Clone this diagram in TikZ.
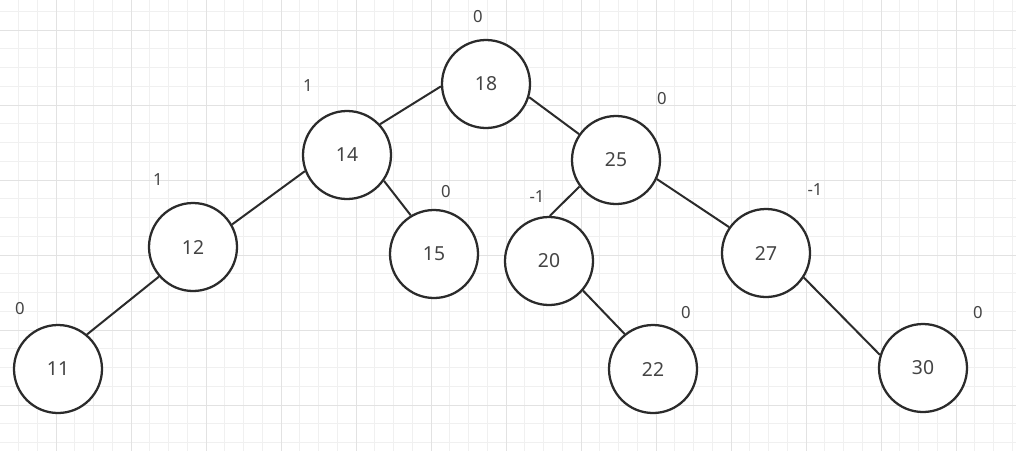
\documentclass[tikz,border=0pt]{standalone}
\usepackage{fontspec}
\setmainfont{Noto Sans}
\definecolor{gridminor}{HTML}{F0F0F0}
\definecolor{gridmajor}{HTML}{E2E2E2}
\definecolor{inkc}{HTML}{2B2B2B}
\definecolor{textc}{HTML}{444444}
\begin{document}
\begin{tikzpicture}[x=0.75pt,y=-0.75pt,
  treenode/.style={circle,draw=inkc,line width=1.7pt,fill=white,minimum size=66pt,inner sep=0pt,font=\fontsize{14.5pt}{17pt}\selectfont,text=textc},
  bal/.style={font=\fontsize{12.5pt}{15pt}\selectfont,text=textc,inner sep=0pt},
  edge/.style={draw=inkc,line width=1.5pt}]
\fill[white] (0,0) rectangle (1016,451);
\useasboundingbox (0,0) rectangle (1016,451);
\begin{scope}
\clip (0,0) rectangle (1016,451);
\foreach \i in {-3,...,52} \draw[gridminor,line width=0.75pt] ({56+18.75*\i},0) -- ({56+18.75*\i},451);
\foreach \i in {-2,...,23} \draw[gridminor,line width=0.75pt] (0,{30+18.75*\i}) -- (1016,{30+18.75*\i});
\foreach \i in {-1,...,13} \draw[gridmajor,line width=0.75pt] ({56+75*\i},0) -- ({56+75*\i},451);
\foreach \i in {-1,...,6} \draw[gridmajor,line width=0.75pt] (0,{30+75*\i}) -- (1016,{30+75*\i});
\end{scope}
\node[treenode] (n18) at (486,84) {18};
\node[treenode] (n14) at (347,155) {14};
\node[treenode] (n25) at (616,160) {25};
\node[treenode] (n12) at (193,247) {12};
\node[treenode] (n15) at (434,254) {15};
\node[treenode] (n20) at (549,261) {20};
\node[treenode] (n27) at (766,253) {27};
\node[treenode] (n11) at (58,369) {11};
\node[treenode] (n22) at (653,369) {22};
\node[treenode] (n30) at (923,368) {30};
\draw[edge] (n18.183) -- (n14.43);
\draw[edge] (n18.-17) -- (n25.145);
\draw[edge] (n14.201) -- (n12.30);
\draw[edge] (n14.-35) -- (n15.121);
\draw[edge] (n25.216) -- (n20.89);
\draw[edge] (n25.-25) -- (n27.145);
\draw[edge] (n12.221) -- (n11.50);
\draw[edge] (n20.-41) -- (n22.129);
\draw[edge] (n27.-33) -- (n30.163);
\node[bal] (b18) at (478,17) {0};
\node[bal] (b14) at (308,86) {1};
\node[bal] (b25) at (662,99) {0};
\node[bal] (b12) at (158,180) {1};
\node[bal] (b15) at (446,192) {0};
\node[bal] (b20) at (537,197) {-1};
\node[bal] (b27) at (815,190) {-1};
\node[bal] (b11) at (20,309) {0};
\node[bal] (b22) at (686,313) {0};
\node[bal] (b30) at (978,313) {0};
\end{tikzpicture}
\end{document}
